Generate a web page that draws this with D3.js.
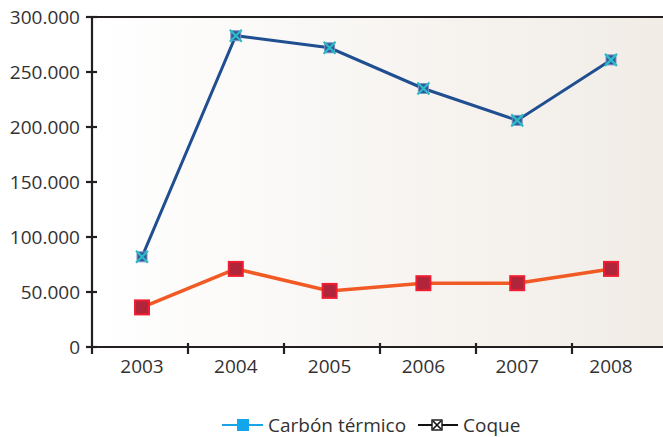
<!DOCTYPE html>
<html>
<head>
<meta charset="utf-8">
<script src="https://cdn.jsdelivr.net/npm/d3@7"></script>
<style>
  html, body { margin: 0; padding: 0; background: #fff; }
  svg { display: block; font-family: "Open Sans", "Noto Sans", sans-serif; font-weight: 400; }
</style>
</head>
<body>
<svg id="chart" width="663" height="437"></svg>
<script>
const years = ["2003", "2004", "2005", "2006", "2007", "2008"];
const coque = [82000, 283000, 272000, 235000, 206000, 261000];
const carbonTermico = [36000, 71000, 51000, 58000, 58000, 71000];
const yTicks = [0, 50000, 100000, 150000, 200000, 250000, 300000];
const legendLabels = ["Carbón térmico", "Coque"];

const W = 663, H = 437;
const plot = { left: 92, right: 663, top: 17, bottom: 347 };

const svg = d3.select("#chart");

const defs = svg.append("defs");
const grad = defs.append("linearGradient").attr("id", "bg").attr("x1", "0").attr("x2", "1").attr("y1", "0").attr("y2", "0");
grad.append("stop").attr("offset", "0").attr("stop-color", "#ffffff");
grad.append("stop").attr("offset", "1").attr("stop-color", "#f1ece6");

svg.append("rect")
  .attr("x", plot.left).attr("y", plot.top)
  .attr("width", plot.right - plot.left).attr("height", plot.bottom - plot.top)
  .attr("fill", "url(#bg)");

const y = d3.scaleLinear().domain([0, 300000]).range([plot.bottom, plot.top]);
const xBand = d3.scaleBand().domain(years).range([plot.left, 668]);
const x = d3.scalePoint().domain(years).range([142, 611]);

const axisColor = "#231f20";
const textColor = "#333132";
const fontSize = 19;
const fmt = v => d3.format(",")(v).replace(/,/g, ".");

svg.append("line").attr("x1", plot.left).attr("x2", plot.left)
  .attr("y1", plot.top).attr("y2", plot.bottom + 7)
  .attr("stroke", axisColor).attr("stroke-width", 2.2);
svg.append("line").attr("x1", plot.left - 6).attr("x2", plot.right)
  .attr("y1", y(300000)).attr("y2", y(300000))
  .attr("stroke", axisColor).attr("stroke-width", 2.2);
svg.append("line").attr("x1", plot.left - 6).attr("x2", plot.right)
  .attr("y1", plot.bottom).attr("y2", plot.bottom)
  .attr("stroke", axisColor).attr("stroke-width", 2.2);

const yt = svg.append("g");
yt.selectAll("line").data(yTicks).join("line")
  .attr("x1", plot.left - 6).attr("x2", plot.left + 5)
  .attr("y1", d => y(d)).attr("y2", d => y(d))
  .attr("stroke", axisColor).attr("stroke-width", 2.2);
yt.selectAll("text").data(yTicks).join("text")
  .attr("x", 80).attr("y", d => y(d)).attr("dy", "0.36em")
  .attr("text-anchor", "end").attr("font-size", fontSize).attr("fill", textColor)
  .text(d => fmt(d));

const xt = svg.append("g");
xt.selectAll("line").data(years.slice(1)).join("line")
  .attr("x1", d => xBand(d)).attr("x2", d => xBand(d))
  .attr("y1", plot.bottom - 4).attr("y2", plot.bottom + 7)
  .attr("stroke", axisColor).attr("stroke-width", 2.2);
xt.selectAll("text").data(years).join("text")
  .attr("x", d => x(d)).attr("y", 366).attr("dy", "0.36em")
  .attr("text-anchor", "middle").attr("font-size", fontSize).attr("fill", textColor)
  .text(d => d);

const line = d3.line().x((d, i) => x(years[i])).y(d => y(d));

svg.append("path").datum(carbonTermico).attr("d", line)
  .attr("fill", "none").attr("stroke", "#f15a24").attr("stroke-width", 3.5);
svg.append("g").selectAll("rect").data(carbonTermico).join("rect")
  .attr("x", (d, i) => x(years[i]) - 7).attr("y", d => y(d) - 7)
  .attr("width", 14).attr("height", 14)
  .attr("fill", "#b1253a").attr("stroke", "#ee1d31").attr("stroke-width", 2);

svg.append("path").datum(coque).attr("d", line)
  .attr("fill", "none").attr("stroke", "#1f4e91").attr("stroke-width", 3);
const cm = svg.append("g").selectAll("g").data(coque).join("g")
  .attr("transform", (d, i) => `translate(${x(years[i])},${y(d)})`);
cm.append("rect").attr("x", -5).attr("y", -5).attr("width", 10).attr("height", 10)
  .attr("fill", "#34579f").attr("stroke", "#7c95c8").attr("stroke-width", 1);
cm.append("path").attr("d", "M-6,-6L6,6M-6,6L6,-6")
  .attr("stroke", "#2bbcc4").attr("stroke-width", 2.2);

const lg = svg.append("g");
lg.append("line").attr("x1", 222).attr("x2", 263).attr("y1", 425).attr("y2", 425)
  .attr("stroke", "#1aa3e6").attr("stroke-width", 2);
lg.append("rect").attr("x", 237).attr("y", 419).attr("width", 12).attr("height", 12)
  .attr("fill", "#14a6ec");
lg.append("text").attr("x", 268).attr("y", 425).attr("dy", "0.36em")
  .attr("font-size", fontSize).attr("fill", textColor).text(legendLabels[0]);

lg.append("line").attr("x1", 418).attr("x2", 458).attr("y1", 425).attr("y2", 425)
  .attr("stroke", "#111").attr("stroke-width", 2);
lg.append("rect").attr("x", 432).attr("y", 420).attr("width", 10).attr("height", 10)
  .attr("fill", "#fff").attr("stroke", "#111").attr("stroke-width", 1.4);
lg.append("path").attr("d", "M433,421L441,429M433,429L441,421")
  .attr("stroke", "#111").attr("stroke-width", 1.6);
lg.append("text").attr("x", 463).attr("y", 425).attr("dy", "0.36em")
  .attr("font-size", fontSize).attr("fill", textColor).text(legendLabels[1]);
</script>
</body>
</html>
